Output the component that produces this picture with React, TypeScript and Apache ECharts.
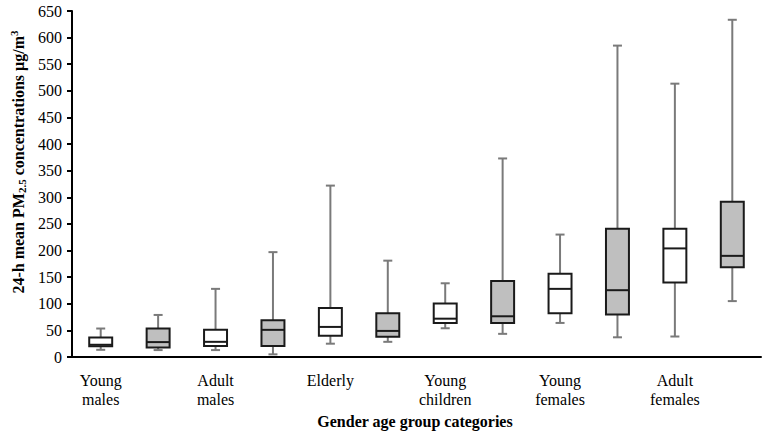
import React, { useEffect, useRef } from "react";
import * as echarts from "echarts";

const groups = ["Young\nmales", "Adult\nmales", "Elderly", "Young\nchildren", "Young\nfemales", "Adult\nfemales"];
const boxIds = ["YM-1", "YM-2", "AM-1", "AM-2", "EL-1", "EL-2", "YC-1", "YC-2", "YF-1", "YF-2", "AF-1", "AF-2"];
const lows = [13.5, 13, 13, 5, 25, 28.5, 54, 43.5, 64, 37, 38.5, 105];
const q1s = [20, 18, 20.5, 20.5, 40, 38, 64, 64, 82, 80, 140, 168.5];
const medians = [23, 28, 28.5, 51, 56.5, 49, 72, 76.5, 128, 125.5, 204, 190];
const q3s = [36.5, 53.5, 51, 69, 92, 82, 100.5, 143, 156.5, 241, 241, 291.5];
const highs = [53.5, 79, 128, 197, 322, 181, 138.5, 373, 230, 585, 513.5, 633.5];
const yTicks = { min: 0, max: 650, interval: 50 };

const FONT = "'Liberation Serif', 'Times New Roman', serif";

export default function App() {
  const ref = useRef<HTMLDivElement>(null);
  useEffect(() => {
    if (!ref.current) return;
    const chart = echarts.init(ref.current, null, { renderer: "svg" });
    const data = boxIds.map((_, i) => [i, lows[i], q1s[i], medians[i], q3s[i], highs[i]]);
    const whisker = "#7a7a7a";
    const border = "#1a1a1a";
    chart.setOption({
      animation: false,
      grid: { left: 72, right: 2, top: 11, bottom: 75 },
      xAxis: {
        type: "category",
        data: boxIds,
        boundaryGap: true,
        axisLine: { lineStyle: { color: "#000", width: 2 } },
        axisTick: { show: false },
        axisLabel: {
          interval: 0,
          margin: 14,
          color: "#000",
          fontFamily: FONT,
          fontSize: 16,
          lineHeight: 19,
          formatter: (_v: string, idx: number) => (idx % 2 === 0 ? groups[idx / 2] : ""),
        },
        splitLine: { show: false },
      },
      yAxis: {
        type: "value",
        min: yTicks.min,
        max: yTicks.max,
        interval: yTicks.interval,
        axisLine: { show: true, lineStyle: { color: "#000", width: 2 } },
        axisTick: { show: true, length: 5, lineStyle: { color: "#000", width: 2 } },
        axisLabel: { color: "#000", fontFamily: FONT, fontSize: 16, margin: 10 },
        splitLine: { show: false },
      },
      graphic: [
        {
          type: "text",
          x: 18,
          y: 162,
          rotation: Math.PI / 2,
          style: {
            text: "{b|24-h mean PM}{sub|2.5}{b| concentrations µg/m}{sup|3}",
            align: "center",
            verticalAlign: "middle",
            fill: "#000",
            rich: {
              b: { fontFamily: FONT, fontSize: 16, fontWeight: "bold", lineHeight: 19, verticalAlign: "middle" },
              sub: { fontFamily: FONT, fontSize: 11, fontWeight: "bold", lineHeight: 10, verticalAlign: "bottom" },
              sup: { fontFamily: FONT, fontSize: 11, fontWeight: "bold", lineHeight: 10, verticalAlign: "top" },
            },
          },
        },
        {
          type: "text",
          x: 415,
          y: 421,
          style: {
            text: "Gender age group categories",
            align: "center",
            verticalAlign: "middle",
            fill: "#000",
            font: `bold 16px ${FONT}`,
          },
        },
      ],
      series: [
        {
          type: "custom",
          data,
          renderItem: (params: any, api: any) => {
            const x = api.value(0);
            const lo = api.coord([x, api.value(1)]);
            const q1 = api.coord([x, api.value(2)]);
            const med = api.coord([x, api.value(3)]);
            const q3 = api.coord([x, api.value(4)]);
            const hi = api.coord([x, api.value(5)]);
            const bw = api.size([1, 0])[0] * 0.4;
            const cx = lo[0];
            const cap = 4.5;
            const fill = params.dataIndex % 2 === 0 ? "#ffffff" : "#bfbfbf";
            const wl = { stroke: whisker, lineWidth: 2 };
            return {
              type: "group",
              children: [
                { type: "line", shape: { x1: cx, y1: hi[1], x2: cx, y2: q3[1] }, style: wl },
                { type: "line", shape: { x1: cx - cap, y1: hi[1], x2: cx + cap, y2: hi[1] }, style: wl },
                { type: "line", shape: { x1: cx, y1: q1[1], x2: cx, y2: lo[1] }, style: wl },
                { type: "line", shape: { x1: cx - cap, y1: lo[1], x2: cx + cap, y2: lo[1] }, style: wl },
                {
                  type: "rect",
                  shape: { x: cx - bw / 2, y: q3[1], width: bw, height: q1[1] - q3[1] },
                  style: { fill, stroke: border, lineWidth: 2 },
                },
                {
                  type: "line",
                  shape: { x1: cx - bw / 2, y1: med[1], x2: cx + bw / 2, y2: med[1] },
                  style: { stroke: border, lineWidth: 2 },
                },
              ],
            };
          },
        },
      ],
    });
    return () => chart.dispose();
  }, []);
  return <div ref={ref} style={{ width: 763, height: 432, position: "absolute", left: 0, top: 0 }} />;
}
